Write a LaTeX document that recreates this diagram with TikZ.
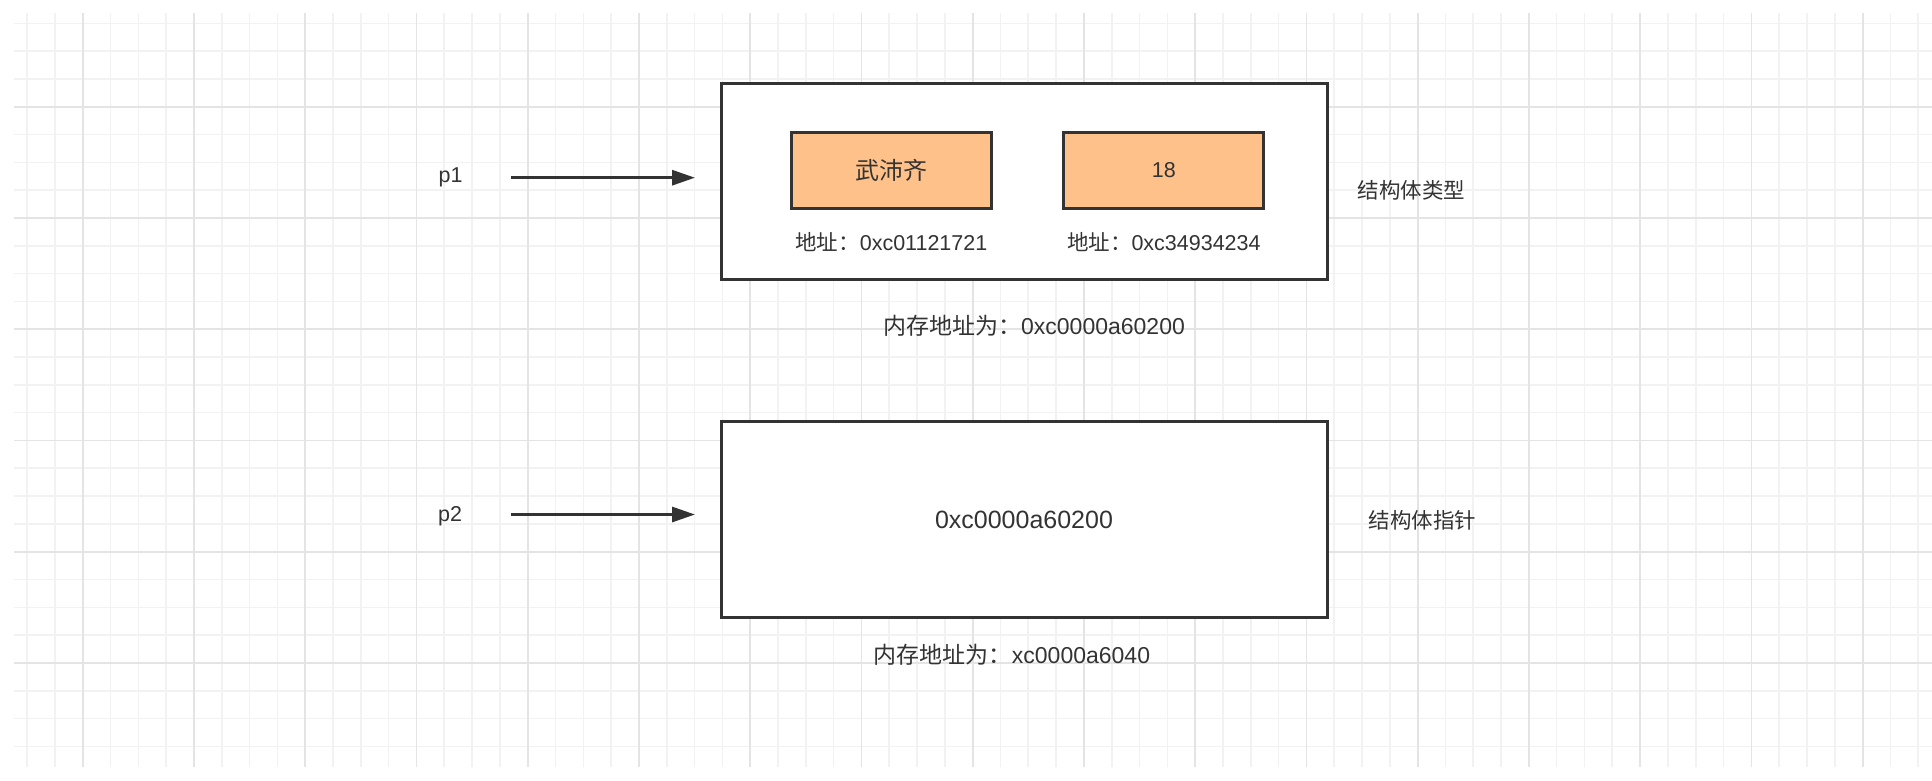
\documentclass[tikz,border=0pt]{standalone}
\usepackage{fontspec}
\setmainfont{Liberation Sans}
\newfontfamily\cjk{Noto Sans CJK SC}
\usetikzlibrary{arrows.meta}
\definecolor{gridminor}{RGB}{242,242,242}
\definecolor{gridmajor}{RGB}{228,228,228}
\definecolor{ink}{RGB}{51,51,51}
\definecolor{boxorange}{RGB}{255,193,138}
\tikzset{
  minorline/.style={draw=gridminor, line width=1.6pt},
  majorline/.style={draw=gridmajor, line width=1.8pt},
  bigbox/.style={draw=ink, line width=3pt, fill=white, minimum width=606pt, minimum height=196pt, inner sep=0pt, font=\fontsize{25}{30}\selectfont, text=ink},
  fieldbox/.style={draw=ink, line width=3pt, fill=boxorange, minimum width=200pt, minimum height=76pt, inner sep=0pt, font=\fontsize{21.5}{26}\selectfont, text=ink},
  label/.style={inner sep=0pt, font=\fontsize{21.5}{26}\selectfont, text=ink},
  memlabel/.style={inner sep=0pt, font=\fontsize{23}{28}\selectfont, text=ink},
  ptr/.style={draw=ink, line width=3pt, -{Triangle[length=23pt,width=15pt]}}
}
\begin{document}
\begin{tikzpicture}[x=1pt,y=-1pt]
\useasboundingbox (0,0) rectangle (1932,780);
\fill[white] (0,0) rectangle (1932,780);
% grid
\foreach \i in {0,...,68} {\draw[minorline] ({27.1+27.81*\i},13) -- ({27.1+27.81*\i},767);}
\foreach \j in {0,...,26} {\draw[minorline] (14,{23.3+27.81*\j}) -- (1932,{23.3+27.81*\j});}
\foreach \i in {0,...,16} {\draw[majorline] ({82.7+111.25*\i},13) -- ({82.7+111.25*\i},767);}
\foreach \j in {0,...,5} {\draw[majorline] (14,{106.7+111.25*\j}) -- (1932,{106.7+111.25*\j});}
% struct box
\node[bigbox] (s) at (1024,181.1) {};
\node[fieldbox] (f1) at (891.3,170.4) {{\cjk\fontsize{24}{28}\selectfont 武沛齐}};
\node[fieldbox] (f2) at (1163.8,170.4) {18};
\node[label] (a1) at (891.3,241.7) {{\cjk 地址：}0xc01121721};
\node[label] (a2) at (1163.8,241.7) {{\cjk 地址：}0xc34934234};
\node[memlabel] (m1) at (1034,326) {{\cjk 内存地址为：}0xc0000a60200};
\node[label] (t1) at (1411.5,190) {\cjk 结构体类型};
% pointer box
\node[bigbox] (q) at (1024,519.4) {0xc0000a60200};
\node[memlabel] (m2) at (1012,654.3) {{\cjk 内存地址为：}xc0000a6040};
\node[label] (t2) at (1422.4,520) {\cjk 结构体指针};
% pointers
\node[label] (p1) at (450.5,177.7) {p1};
\node[label] (p2) at (450,516) {p2};
\coordinate (p1s) at (510.7,177.7);
\coordinate (p1e) at (695,177.7);
\coordinate (p2s) at (510.7,514.5);
\coordinate (p2e) at (695,514.5);
\draw[ptr] (p1s) -- (p1e);
\draw[ptr] (p2s) -- (p2e);
\end{tikzpicture}
\end{document}
